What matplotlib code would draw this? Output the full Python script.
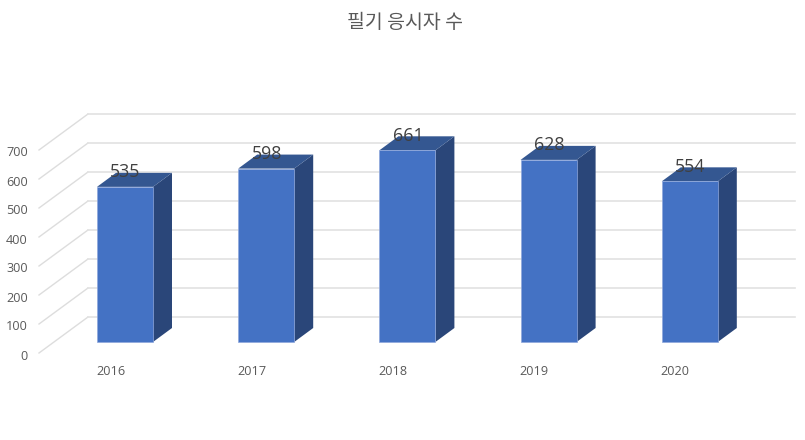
"""필기 응시자 수: fake 3D column chart, same look as the spreadsheet original."""

import matplotlib
matplotlib.use("Agg")
import matplotlib.pyplot as plt
from matplotlib.transforms import Affine2D

years = ["2016", "2017", "2018", "2019", "2020"]
counts = [535, 598, 661, 628, 554]
y_ticks = [0, 100, 200, 300, 400, 500, 600, 700]

FRONT = "#4472C4"
SIDE = "#2A4679"
TOP = "#345791"
EDGE = "#8FA8DC"
GRID = "#E2E2E2"
WALL = "#DDDDDD"
TICK_TEXT = "#595959"
LABEL_TEXT = "#404040"

W, H = 805, 440
PX_X = 141.2   # pixels per category
PX_Y = 0.29    # pixels per unit of value


def dx(px):
    return px / PX_X


def dy(px):
    return px / PX_Y


plt.rcParams["font.family"] = ["Open Sans", "Noto Sans CJK KR", "DejaVu Sans"]

fig = plt.figure(figsize=(W / 100, H / 100), dpi=100)
ax = fig.add_axes([39 / W, (H - 353) / H, (795 - 39) / W, 800 * PX_Y / H])
ax.set_xlim((39 - 125) / PX_X, (795 - 125) / PX_X)
ax.set_ylim(0, 800)
for side in ax.spines.values():
    side.set_visible(False)

# ── walls ────────────────────────────────────────────────────────────────
x_left, x_right = ax.get_xlim()
for v in y_ticks:
    back = v + dy(36)
    ax.plot([x_left, x_left + dx(49)], [v, back], color=WALL, lw=1, clip_on=False, zorder=1)
    ax.plot([x_left + dx(49), x_right], [back, back], color=GRID, lw=1.2, clip_on=False, zorder=1)

# ── columns ──────────────────────────────────────────────────────────────
half = dx(28)
lift = dy(11)
depth_x, depth_y = dx(19), dy(14)
for i, c in enumerate(counts):
    left, right = i - half, i + half
    base, top = lift, lift + c
    ax.fill([right, right + depth_x, right + depth_x, right],
            [base, base + depth_y, top + depth_y, top],
            color=SIDE, lw=0, clip_on=False, zorder=2)
    ax.fill([left, left + depth_x, right + depth_x, right],
            [top, top + depth_y, top + depth_y, top],
            color=TOP, lw=0, clip_on=False, zorder=2)
    ax.bar(i, c, bottom=base, width=2 * half, color=FRONT, edgecolor=EDGE,
           linewidth=0.5, clip_on=False, zorder=3)
    ax.annotate(str(c), (i, top), textcoords="offset points", xytext=(0.4, 10.5),
                ha="center", va="center", fontsize=12.8, color=LABEL_TEXT,
                annotation_clip=False, zorder=4)

# ── axis text ────────────────────────────────────────────────────────────
ax.set_yticks(y_ticks)
ax.set_xticks(range(len(years)))
ax.set_xticklabels(years)
ax.tick_params(axis="both", length=0, labelsize=9.1, labelcolor=TICK_TEXT)
ax.tick_params(axis="y", pad=8)
ax.tick_params(axis="x", pad=8.5)
# year labels sit left of the column centre in the original
for label in ax.get_xticklabels():
    label.set_transform(label.get_transform() + Affine2D().translate(-14.5, 0))
for label in ax.get_yticklabels():
    label.set_transform(label.get_transform() + Affine2D().translate(0, -1.5))

fig.text(404.5 / W, 1 - 22.5 / H, "필기 응시자 수", ha="center", va="center",
         fontsize=14, color=TICK_TEXT, family=["Noto Sans CJK KR", "DejaVu Sans"])

fig.savefig("out.png", dpi=100)
